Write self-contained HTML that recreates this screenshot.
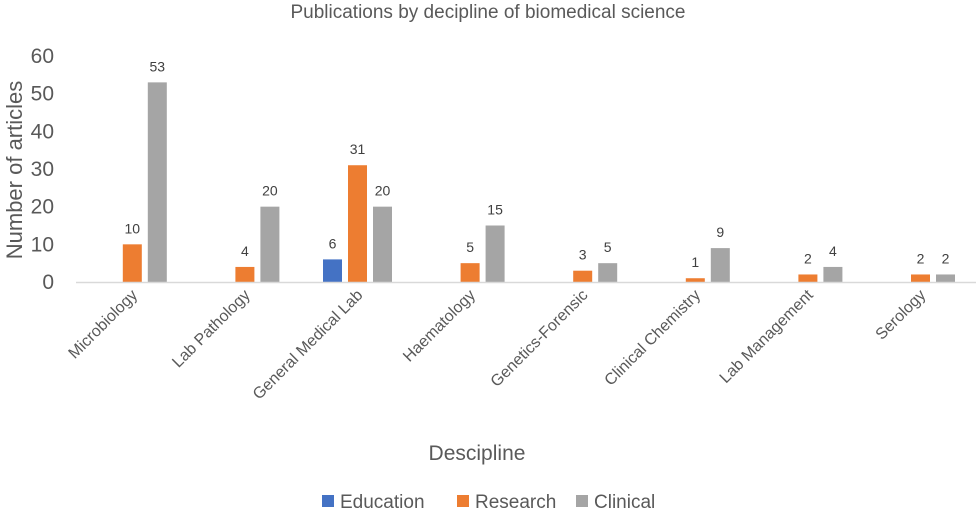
<!DOCTYPE html>
<html><head><meta charset="utf-8"><style>
body{margin:0;background:#fff;width:976px;height:513px;overflow:hidden;font-family:"Liberation Sans",sans-serif}
</style></head><body>
<svg width="976" height="513">
<text x="488" y="18" text-anchor="middle" font-size="19" fill="#595959">Publications by decipline of biomedical science</text>
<text transform="translate(22,170) rotate(-90)" text-anchor="middle" font-size="22" fill="#595959">Number of articles</text>
<text x="477" y="460" text-anchor="middle" font-size="21" fill="#595959">Descipline</text>
<g id="yt"></g><g id="bars"></g><g id="xl"></g>
<line x1="76" y1="282.5" x2="976" y2="282.5" stroke="#d9d9d9" stroke-width="1.5"/>
<g font-size="19" fill="#595959">
<rect x="322" y="495" width="12" height="12" fill="#4472c4"/>
<text x="340" y="508">Education</text>
<rect x="457" y="495" width="12" height="12" fill="#ed7d31"/>
<text x="475" y="508">Research</text>
<rect x="576" y="495" width="12" height="12" fill="#a5a5a5"/>
<text x="594" y="508">Clinical</text>
</g>
</svg>
<script>
const categories=["Microbiology","Lab Pathology","General Medical Lab","Haematology","Genetics-Forensic","Clinical Chemistry","Lab Management","Serology"];
const education=[0,0,6,0,0,0,0,0];
const research=[10,4,31,5,3,1,2,2];
const clinical=[53,20,20,15,5,9,4,2];
const yTicks=[0,10,20,30,40,50,60];
const NS="http://www.w3.org/2000/svg";
const y0=282,yTop=56,x0=76,band=112.6;
const y=v=>y0-(v/60)*(y0-yTop);
const xc=i=>x0+band*(i+0.5);
function mk(t,a,p){const e=document.createElementNS(NS,t);for(const k in a)e.setAttribute(k,a[k]);p.appendChild(e);return e;}
const yt=document.getElementById('yt');
yTicks.forEach(v=>{const t=mk('text',{x:54,y:y(v)+7,'text-anchor':'end','font-size':21,fill:'#595959'},yt);t.textContent=v;

});
const series=[["education",education,"#4472c4",-1],["research",research,"#ed7d31",0],["clinical",clinical,"#a5a5a5",1]];
const bg=document.getElementById('bars');
series.forEach(([n,arr,c,off])=>{arr.forEach((v,i)=>{if(v<=0)return;
const cx=xc(i)+off*25;
const r=mk('rect',{x:cx-9.5,y:y(v),width:19,height:y0-y(v),fill:c},bg);


const t=mk('text',{x:cx,y:y(v)-11,'text-anchor':'middle','font-size':14,fill:'#404040'},bg);t.textContent=v;

});});
const xl=document.getElementById('xl');
categories.forEach((c,i)=>{const t=mk('text',{transform:`translate(${xc(i)+6},296) rotate(-45)`,'text-anchor':'end','font-size':16,fill:'#595959'},xl);t.textContent=c;

});
</script>
</body></html>
